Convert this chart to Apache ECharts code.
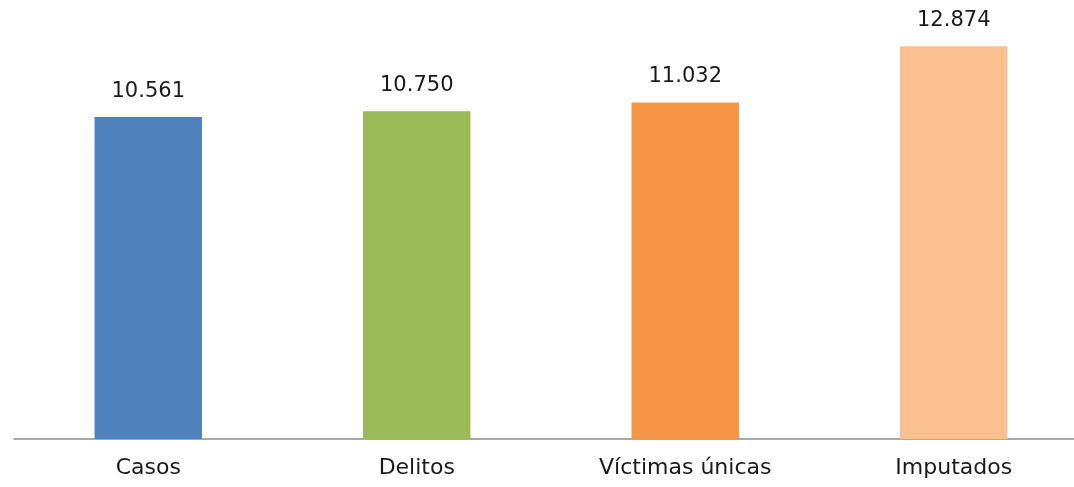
<!DOCTYPE html>
<html>
<head>
<meta charset="utf-8">
<script src="https://cdn.jsdelivr.net/npm/echarts@6/dist/echarts.min.js"></script>
<style>
  html, body { margin: 0; padding: 0; background: #fff; overflow: hidden; }
  #chart { width: 1088px; height: 487px; }
</style>
</head>
<body>
<div id="chart"></div>
<script>
// categories and values
var categories = ['Casos', 'Delitos', 'Víctimas únicas', 'Imputados'];
var values = [10561, 10750, 11032, 12874];
var barColors = ['#4F81BD', '#9BBB59', '#F79646', '#FAC090'];

function fmt(v) {
  return String(v).replace(/\B(?=(\d{3})+(?!\d))/g, '.');
}

// the plot runs past the right edge of the picture, so the canvas is a bit wider than the window
var chart = echarts.init(document.getElementById('chart'));
var option = {
  animation: false,
  grid: { left: 14, right: 0, top: 12, bottom: 48 },
  xAxis: {
    type: 'category',
    data: categories,
    axisLine: { lineStyle: { color: '#8c8c8c', width: 1.5 } },
    axisTick: { show: false },
    axisLabel: {
      color: '#1a1a1a',
      fontFamily: 'DejaVu Sans',
      fontSize: 22,
      margin: 18
    }
  },
  yAxis: {
    type: 'value',
    min: 0,
    max: 14000,
    show: false,
    splitLine: { show: false }
  },
  series: [{
    type: 'bar',
    barWidth: '40%',
    data: values.map(function (v, i) {
      return { value: v, itemStyle: { color: barColors[i] } };
    }),
    label: {
      show: true,
      position: 'top',
      distance: 15,
      color: '#1a1a1a',
      fontFamily: 'DejaVu Sans',
      fontSize: 21,
      formatter: function (p) { return fmt(p.value); }
    }
  }]
};
chart.setOption(option);
</script>
</body>
</html>
